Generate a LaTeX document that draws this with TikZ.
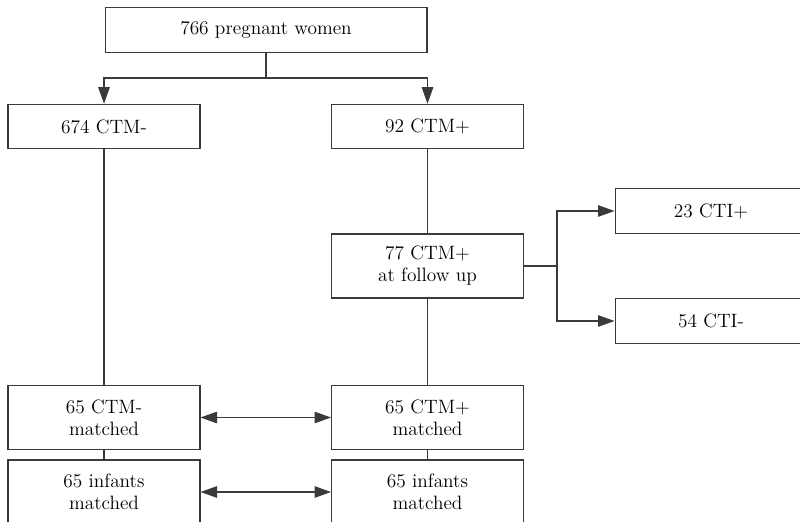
\documentclass[tikz,border=0pt]{standalone}
\usetikzlibrary{arrows.meta,positioning}
\definecolor{LineDark}{HTML}{3A3A3A}

\begin{document}
\begin{tikzpicture}[
    x=0.02cm, y=-0.02cm,
    box/.style={
      draw=LineDark,
      line width=0.6pt,
      fill=white,
      minimum width=3.84cm,
      minimum height=0.89cm,
      inner sep=1pt,
      align=center,
      font=\fontsize{11}{12.5}\selectfont
    },
    tallbox/.style={box, minimum height=1.28cm},
    link/.style={draw=LineDark, line width=0.6pt},
    tip/.style={-{Triangle[length=3.3mm,width=2.3mm]}},
    tips/.style={{Triangle[length=3.3mm,width=2.3mm]}-{Triangle[length=3.3mm,width=2.3mm]}}
  ]
        \useasboundingbox (0,0) rectangle (800,521);
        \clip (0,0) rectangle (800,521);
        % cohort and first split
        \node[box, minimum width=6.44cm] (women) at (266,30) {766 pregnant women};
        \node[box] (neg) at (104,126.5) {674 CTM-};
        \node[box] (pos) at (427.5,126.5) {92 CTM+};
        \coordinate (split) at (266,78);
        \draw[link] (women) -- (split);
        \draw[link,tip] (split) -| (neg);
        \draw[link,tip] (split) -| (pos);
        % follow up of the positive group
        \node[tallbox] (follow) at (427.5,266) {77 CTM+\\at follow up};
        \node[box] (ctipos) at (711,211) {23 CTI+};
        \node[box] (ctineg) at (711,321) {54 CTI-};
        \coordinate (fork) at (557,266);
        \draw[link] (pos) -- (follow);
        \draw[link] (follow) -- (fork);
        \draw[link,tip] (fork) |- (ctipos);
        \draw[link,tip] (fork) |- (ctineg);
        % matched pairs
        \node[tallbox] (negm) at (104,417.5) {65 CTM-\\matched};
        \node[tallbox] (posm) at (427.5,417.5) {65 CTM+\\matched};
        \node[tallbox] (negi) at (104,492) {65 infants\\matched};
        \node[tallbox] (posi) at (427.5,492) {65 infants\\matched};
        \draw[link] (neg) -- (negm);
        \draw[link] (follow) -- (posm);
        \draw[link] (negm) -- (negi);
        \draw[link] (posm) -- (posi);
        \draw[link,tips] (negm) -- (posm);
        \draw[link,tips] (negi) -- (posi);
      \end{tikzpicture}
\end{document}
